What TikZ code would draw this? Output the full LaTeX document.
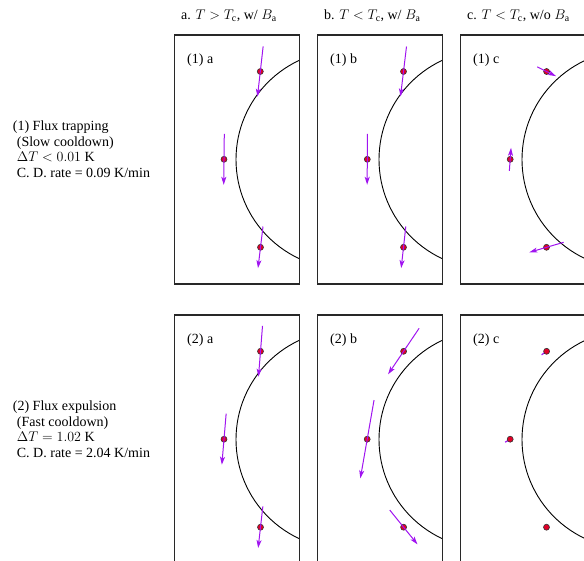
\RequirePackage{fix-cm}
\documentclass[tikz,border=0pt]{standalone}
\usepackage{fontspec}
\setmainfont{Liberation Serif}
\usetikzlibrary{arrows.meta}
\definecolor{vec}{RGB}{160,20,240}
\definecolor{dotred}{RGB}{225,0,40}
\definecolor{boxgray}{RGB}{40,40,40}
\tikzset{
 panelbox/.style={draw=boxgray,line width=1.3pt},
 ring/.style={draw=black,line width=0.9pt},
 fluxdot/.style={circle,fill=dotred,draw=black!80,line width=0.6pt,inner sep=0pt,minimum size=6pt},
 fieldvec/.style={draw=vec,line width=1pt,-{Stealth[length=8pt,width=5pt,inset=2pt]}},
 tinyvec/.style={draw=vec,line width=1.2pt},
 lbl/.style={font=\fontsize{14}{15.5}\selectfont,inner sep=0pt,anchor=base west},
}
\newcommand\drawpanel[4]{%
  \begin{scope}
    \clip (#1,#2) rectangle ++(125,249);
    \draw[ring] (#1+171,#2+124.5) circle[radius=109.3];
  \end{scope}
  \draw[panelbox] (#1,#2) rectangle ++(125,249);
  \node[lbl] (#4) at (#1+12.7,#2+28.5) {#3};
}
% \fluxvec{name}{cx}{cy}{vx}{vy}
\newcommand\fluxvec[5]{%
  \node[fluxdot] (#1) at (#2,#3) {};
  \draw[fieldvec] (#2-0.5*#4,#3-0.5*#5) -- ++(#4,#5);
}
\newcommand\fluxtiny[5]{%
  \draw[tinyvec] (#2,#3) -- ++(#4,#5);
  \node[fluxdot] (#1) at (#2,#3) {};
}
\begin{document}
\begin{tikzpicture}[x=1pt,y=-1pt]
\useasboundingbox (0,0) rectangle (584,560);
\clip (0,0) rectangle (584,560);

% column titles
\node[lbl] (ta) at (181,19.5) {a. $T > T_\mathrm{c}$, w/ $B_\mathrm{a}$};
\node[lbl] (tb) at (324,19.5) {b. $T < T_\mathrm{c}$, w/ $B_\mathrm{a}$};
\node[lbl] (tc) at (467,19.5) {c. $T < T_\mathrm{c}$, w/o $B_\mathrm{a}$};

% row labels
\node[lbl] (r1a) at (12.7,130.7) {(1) Flux trapping};
\node[lbl] (r1b) at (16.7,146.2) {(Slow cooldown)};
\node[lbl] (r1c) at (16.7,161.7) {$\Delta T < 0.01$ K};
\node[lbl] (r1d) at (16.7,177.2) {C. D. rate = 0.09 K/min};

\node[lbl] (r2a) at (12.7,410.7) {(2) Flux expulsion};
\node[lbl] (r2b) at (16.7,426.2) {(Fast cooldown)};
\node[lbl] (r2c) at (16.7,441.7) {$\Delta T = 1.02$ K};
\node[lbl] (r2d) at (16.7,457.2) {C. D. rate = 2.04 K/min};

% panels
\drawpanel{174.3}{35}{(1) a}{p1a}
\drawpanel{317.3}{35}{(1) b}{p1b}
\drawpanel{460.3}{35}{(1) c}{p1c}
\drawpanel{174.3}{315}{(2) a}{p2a}
\drawpanel{317.3}{315}{(2) b}{p2b}
\drawpanel{460.3}{315}{(2) c}{p2c}

% (1) a
\fluxvec{d1a1}{260.3}{71.5}{-5.7}{50.3}
\fluxvec{d1a2}{224}{159.3}{-0.6}{51}
\fluxvec{d1a3}{260.5}{247.3}{-5}{41.6}
% (1) b
\fluxvec{d1b1}{403.5}{71.5}{-6}{50}
\fluxvec{d1b2}{367.3}{159.3}{-0.3}{51}
\fluxvec{d1b3}{403.5}{247.3}{-4.6}{41.6}
% (1) c
\fluxvec{d1c1}{546.6}{71.5}{18.7}{9.3}
\fluxvec{d1c2}{510.2}{159.3}{1.7}{-23}
\fluxvec{d1c3}{546.5}{247.3}{-34.3}{10}
% (2) a
\fluxvec{d2a1}{260.5}{351.3}{-4}{50.7}
\fluxvec{d2a2}{224}{439.2}{-4.3}{51}
\fluxvec{d2a3}{260.5}{527.2}{-4.7}{41.6}
% (2) b
\fluxvec{d2b1}{403.6}{351.3}{-31}{46}
\fluxvec{d2b2}{367.2}{439.2}{-13.7}{78.3}
\fluxvec{d2b3}{403.6}{527.2}{27.7}{34.3}
% (2) c
\fluxtiny{d2c1}{546.6}{351.3}{-5}{3.5}
\fluxtiny{d2c2}{510.2}{439.2}{-5}{3}
\node[fluxdot] (d2c3) at (546.5,527.2) {};
\end{tikzpicture}
\end{document}
